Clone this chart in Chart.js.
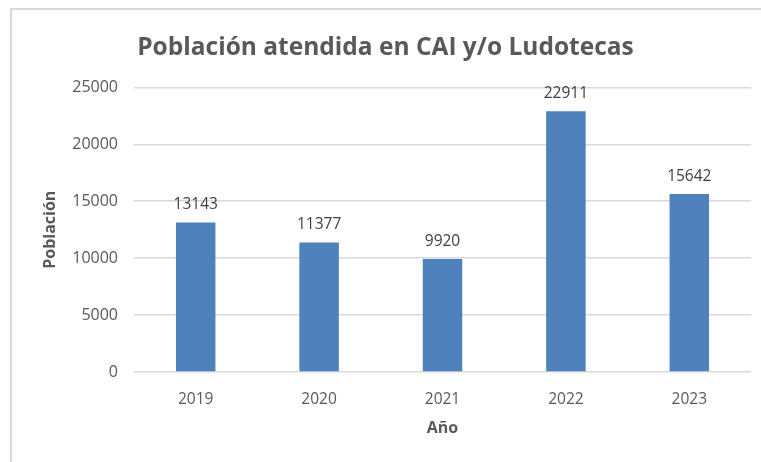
<!DOCTYPE html>
<html>
<head>
<meta charset="utf-8">
<script src="https://cdn.jsdelivr.net/npm/chart.js"></script>
<style>
  body { margin: 0; background: #fff; }
  #frame { position: absolute; left: 10px; top: 8px; width: 760px; height: 460px;
           border-left: 2px solid #d9d9d9; border-top: 2px solid #d9d9d9; }
  #box { position: absolute; left: 0; top: 0; width: 761px; height: 462px; }
</style>
</head>
<body>
<div id="frame"></div>
<div id="box"><canvas id="myChart"></canvas></div>
<script>
// chart data
const years = ['2019', '2020', '2021', '2022', '2023'];
const people = [13143, 11377, 9920, 22911, 15642];
const yTicks = [0, 5000, 10000, 15000, 20000, 25000];

const grey = '#595959';
const fontName = "'Open Sans', 'Liberation Sans', sans-serif";

// numbers above each bar
const barLabels = {
  id: 'barLabels',
  afterDatasetsDraw(chart) {
    const ctx = chart.ctx;
    const meta = chart.getDatasetMeta(0);
    ctx.save();
    ctx.font = '15.5px ' + fontName;
    ctx.fillStyle = '#404040';
    ctx.textAlign = 'center';
    ctx.textBaseline = 'bottom';
    meta.data.forEach((bar, i) => {
      ctx.fillText(String(people[i]), bar.x, bar.y - 10);
    });
    ctx.restore();
  }
};

new Chart(document.getElementById('myChart'), {
  type: 'bar',
  data: {
    labels: years,
    datasets: [{
      data: people,
      backgroundColor: '#4f81bd',
      barPercentage: 0.32,
      categoryPercentage: 1
    }]
  },
  options: {
    responsive: true,
    maintainAspectRatio: false,
    animation: false,
    layout: { padding: { left: 20, right: 10, top: 0, bottom: 0 } },
    plugins: {
      legend: { display: false },
      tooltip: { enabled: false },
      title: {
        display: true,
        text: 'Población atendida en CAI y/o Ludotecas',
        color: grey,
        font: { family: fontName, size: 24.5, weight: 'bold' },
        padding: { top: 33, bottom: 25 }
      }
    },
    scales: {
      x: {
        grid: { display: false },
        border: { display: false },
        ticks: { color: grey, font: { family: fontName, size: 15.5 }, padding: 10 },
        title: {
          display: true, text: 'Año', color: grey,
          font: { family: fontName, size: 16, weight: 'bold' },
          padding: { top: 6, bottom: 24 }
        },
        afterFit(scale) { scale.height = 90; }
      },
      y: {
        min: 0,
        max: 25000,
        afterBuildTicks(scale) { scale.ticks = yTicks.map(v => ({ value: v })); },
        grid: { color: '#d9d9d9', lineWidth: 1.5, drawTicks: false },
        border: { display: false },
        ticks: {
          color: grey, font: { family: fontName, size: 16 }, padding: 16,
          callback: v => String(v)
        },
        title: {
          display: true, text: 'Población', color: grey,
          font: { family: fontName, size: 16, weight: 'bold' },
          padding: { top: 21, bottom: 14 }
        },
        afterFit(scale) { scale.width = 114; }
      }
    }
  },
  plugins: [barLabels]
});
</script>
</body>
</html>
